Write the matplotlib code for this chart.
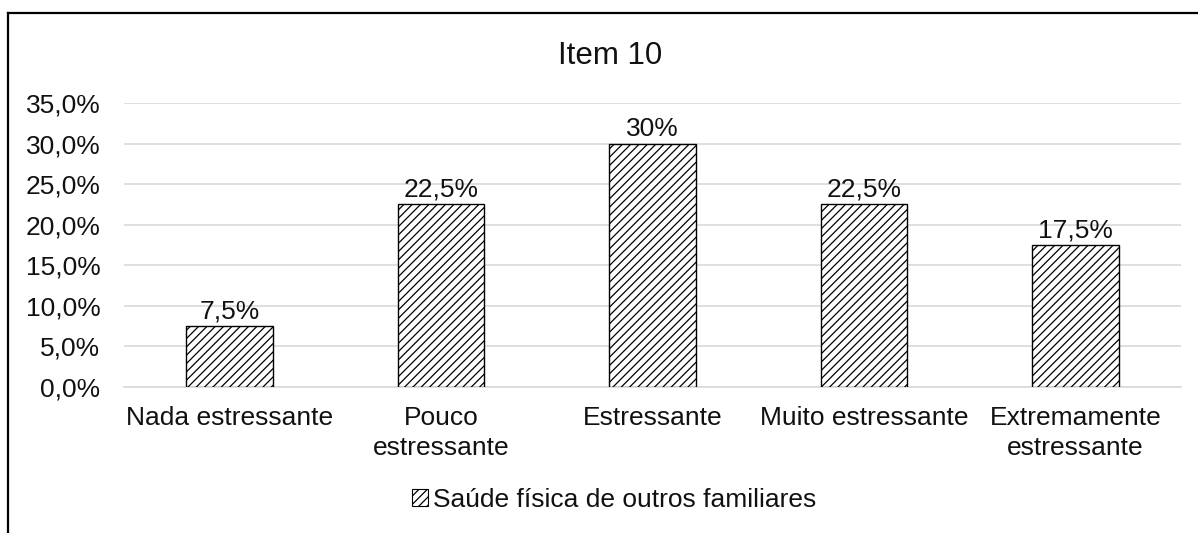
import matplotlib
matplotlib.use("Agg")
import matplotlib.pyplot as plt
from matplotlib.lines import Line2D
from matplotlib.patches import Patch
import numpy as np

plt.rcParams['font.family'] = ['Liberation Sans', 'DejaVu Sans']
plt.rcParams['hatch.linewidth'] = 0.9

categories = ["Nada estressante", "Pouco\nestressante", "Estressante",
              "Muito estressante", "Extremamente\nestressante"]
values = [7.5, 22.5, 30.0, 22.5, 17.5]
value_labels = ["7,5%", "22,5%", "30%", "22,5%", "17,5%"]
yticks = [0, 5, 10, 15, 20, 25, 30, 35]
ytick_labels = ["0,0%", "5,0%", "10,0%", "15,0%", "20,0%", "25,0%", "30,0%", "35,0%"]
series_name = "Saúde física de outros familiares"
title = "Item 10"

FS = 19
W, H = 1198, 533
fig = plt.figure(figsize=(W / 100, H / 100), dpi=100)
ax = fig.add_axes([124 / W, 1 - 387 / H, (1181 - 124) / W, (387 - 103) / H])

x = np.arange(len(categories))
ax.bar(x, values, width=0.41, color='white', edgecolor='black',
       linewidth=1.0, hatch='////', zorder=3)
for xi, v, lab in zip(x, values, value_labels):
    ax.annotate(lab, (xi, v), xytext=(0, 2), textcoords='offset points',
                ha='center', va='bottom', fontsize=FS, color='#111111')

ax.set_xlim(-0.5, len(categories) - 0.5)
ax.set_ylim(0, 35)
ax.set_yticks(yticks)
ax.set_yticklabels(ytick_labels, fontsize=FS, color='#111111')
ax.set_xticks(x)
ax.set_xticklabels(categories, fontsize=FS, color='#111111', linespacing=1.3)
ax.tick_params(axis='y', length=0, pad=17)
ax.tick_params(axis='x', length=0, pad=14)
ax.grid(axis='y', color='#d9d9d9', linewidth=1.2, zorder=0)
for s in ['top', 'right', 'left']:
    ax.spines[s].set_visible(False)
ax.spines['bottom'].set_color('#d9d9d9')
ax.spines['bottom'].set_linewidth(1.2)

fig.text(610 / W, 1 - 56 / H, title, ha='center', va='center', fontsize=22.5,
         color='#111111')

handle = Patch(facecolor='white', edgecolor='black', hatch='////', linewidth=0.8)
fig.legend([handle], [series_name], loc='center', bbox_to_anchor=(614 / W, 1 - 500 / H),
           frameon=False, fontsize=FS, handlelength=0.6, handleheight=0.6,
           handletextpad=0.2, labelcolor='#111111')

# chart border (top and left visible)
fig.add_artist(Line2D([8 / W, 1.0], [1 - 13 / H, 1 - 13 / H], color='black', linewidth=1.6,
                      transform=fig.transFigure))
fig.add_artist(Line2D([8 / W, 8 / W], [1 - 13 / H, 0.0], color='black', linewidth=1.6,
                      transform=fig.transFigure))

fig.savefig("out.png", dpi=100)
